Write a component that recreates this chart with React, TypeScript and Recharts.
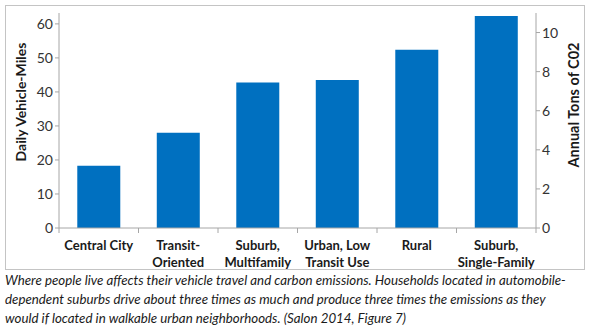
import React from "react";
import { BarChart, Bar, XAxis, YAxis } from "recharts";

const categories = [
    "Central City",
    "Transit-\nOriented",
    "Suburb,\nMultifamily",
    "Urban, Low\nTransit Use",
    "Rural",
    "Suburb,\nSingle-Family",
];
const dailyMiles = [18.3, 28.0, 42.8, 43.5, 52.4, 62.3];
const leftTicks = [0, 10, 20, 30, 40, 50, 60];
const rightTicks = [0, 2, 4, 6, 8, 10];
const captionLines = [
    "Where people live affects their vehicle travel and carbon emissions. Households located in automobile-",
    "dependent suburbs drive about three times as much and produce three times the emissions as they",
    "would if located in walkable urban neighborhoods.  (Salon 2014, Figure 7)",
];

const data = categories.map((name, i) => ({ name, miles: dailyMiles[i] }));

const font = "Lato, 'Open Sans', sans-serif";
const axisColor = "#a6a6a6";

const CategoryTick = (props: any) => {
    const { x, y, payload, index } = props;
    const half = payload.offset ?? 39.75;
    const lines = String(payload.value).split("\n");
    return (
        <g>
            <line x1={x - half} y1={y - 8} x2={x - half} y2={y - 3} stroke={axisColor} />
            {index === categories.length - 1 && (
                <line x1={x + half} y1={y - 8} x2={x + half} y2={y - 3} stroke={axisColor} />
            )}
            {lines.map((l, i) => (
                <text
                    key={i}
                    x={x}
                    y={y + 14 + i * 17}
                    textAnchor="middle"
                    fontFamily={font}
                    fontSize={13}
                    fontWeight="bold"
                    fill="#1a1a1a"
                >
                    {l}
                </text>
            ))}
        </g>
    );
};

export default function App() {
    return (
        <div
            style={{
                position: "absolute",
                left: 0,
                top: 0,
                width: 592,
                height: 327,
                background: "#fff",
                fontFamily: font,
            }}
        >
            <div
                style={{
                    position: "absolute",
                    left: 5,
                    top: 5,
                    width: 578,
                    height: 263,
                    border: "1px solid #c4c4c4",
                }}
            />
            <div style={{ position: "absolute", left: 0, top: 0 }}>
                <BarChart
                    width={592}
                    height={270}
                    data={data}
                    margin={{ top: 13, right: 0, left: 0, bottom: 0 }}
                    barCategoryGap="23%"
                >
                    <XAxis
                        dataKey="name"
                        height={42}
                        tickLine={false}
                        stroke={axisColor}
                        interval={0}
                        tick={<CategoryTick />}
                    />
                    <YAxis
                        yAxisId="left"
                        width={59}
                        domain={[0, 63.2]}
                        ticks={leftTicks}
                        allowDataOverflow
                        stroke={axisColor}
                        tickSize={4}
                        tick={{ fill: "#333", fontSize: 14, fontFamily: font }}
                    />
                    <YAxis
                        yAxisId="right"
                        orientation="right"
                        width={56}
                        domain={[0, 11]}
                        ticks={rightTicks}
                        allowDataOverflow
                        stroke={axisColor}
                        tickSize={4}
                        tick={{ fill: "#333", fontSize: 14, fontFamily: font }}
                    />
                    <Bar
                        yAxisId="left"
                        dataKey="miles"
                        fill="#0070c0"
                        isAnimationActive={false}
                    />
                </BarChart>
            </div>
            <div
                style={{
                    position: "absolute",
                    left: 20,
                    top: 102,
                    transform: "translate(-50%, -50%) rotate(-90deg)",
                    whiteSpace: "nowrap",
                    fontWeight: "bold",
                    fontSize: 14,
                    color: "#1a1a1a",
                }}
            >
                Daily Vehicle-Miles
            </div>
            <div
                style={{
                    position: "absolute",
                    left: 573,
                    top: 105,
                    transform: "translate(-50%, -50%) rotate(-90deg)",
                    whiteSpace: "nowrap",
                    fontWeight: "bold",
                    fontSize: 14.5,
                    color: "#1a1a1a",
                }}
            >
                Annual Tons of C02
            </div>
            <div
                style={{
                    position: "absolute",
                    left: 5,
                    top: 271,
                    fontStyle: "italic",
                    fontSize: 13.3,
                    lineHeight: "19px",
                    color: "#1a1a1a",
                    whiteSpace: "nowrap",
                }}
            >
                {captionLines.map((l, i) => (
                    <div key={i}>{l}</div>
                ))}
            </div>
        </div>
    );
}
